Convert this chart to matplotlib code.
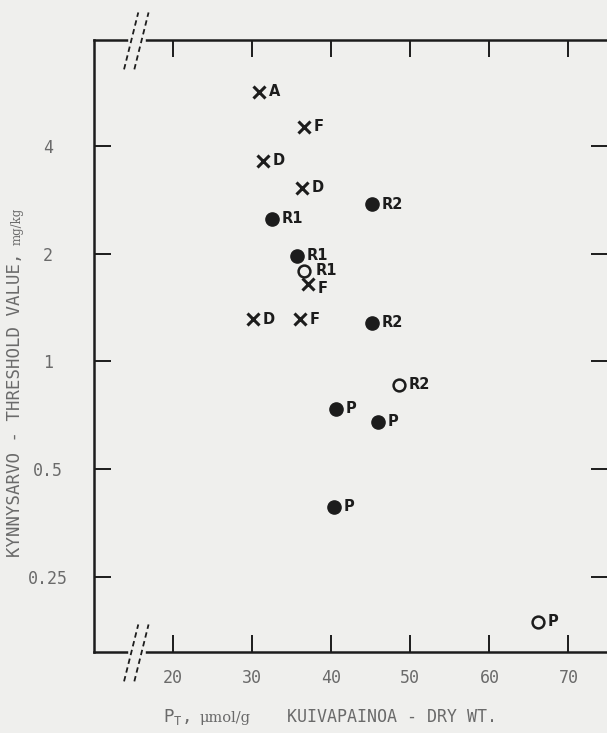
import matplotlib
matplotlib.use("Agg")
import matplotlib.pyplot as plt
import matplotlib.transforms as mtransforms

# data
filled_x = [32.5, 45.1, 35.7, 45.2, 40.6, 45.9, 40.3]
filled_y = [2.50, 2.75, 1.97, 1.28, 0.736, 0.677, 0.392]
filled_lbl = ["R1", "R2", "R1", "R2", "P", "P", "P"]

open_x = [36.6, 48.6, 66.1]
open_y = [1.79, 0.859, 0.187]
open_lbl = ["R1", "R2", "P"]

cross_x = [30.9, 36.5, 31.4, 36.3, 37.0, 30.1, 36.1]
cross_y = [5.66, 4.52, 3.63, 3.05, 1.645, 1.31, 1.31]
cross_lbl = ["A", "F", "D", "D", "F", "D", "F"]

xticks = [20, 30, 40, 50, 60, 70]
yticks = [0.25, 0.5, 1, 2, 4]
ytick_lbl = ["0.25", "0.5", "1", "2", "4"]

bg = "#efefed"
ink = "#1c1c1c"
grey = "#6a6a6a"
mono = "DejaVu Sans Mono"

fig = plt.figure(figsize=(6.07, 7.33), dpi=100, facecolor=bg)
ax = fig.add_axes([94 / 607, 1 - 652 / 733, 514 / 607, 612 / 733])
ax.set_facecolor(bg)

ax.set_yscale("log", base=2)
ax.set_xlim(10, 75)
ax.set_ylim(0.154, 7.9)

ax.plot(filled_x, filled_y, "o", color=ink, ms=9.5, ls="none")
ax.plot(open_x, open_y, "o", mfc="none", mec=ink, mew=1.8, ms=8.5, ls="none")
ax.plot(cross_x, cross_y, "x", color=ink, mew=2.2, ms=8, ls="none")

# label offsets in points; the crowded open R1 / cross F pair is nudged apart
nudge = {("open", 0): (8, 0.5), ("cross", 4): (7, -3)}
lblfont = dict(family="DejaVu Sans", fontsize=10.5, fontweight="bold", color=ink)
for name, xs, ys, ls in [("filled", filled_x, filled_y, filled_lbl),
                         ("open", open_x, open_y, open_lbl),
                         ("cross", cross_x, cross_y, cross_lbl)]:
    for i, (x, y, t) in enumerate(zip(xs, ys, ls)):
        ax.annotate(t, (x, y), xytext=nudge.get((name, i), (7, 0)),
                    textcoords="offset points", va="center", ha="left", **lblfont)

# axes styling
for s in ax.spines.values():
    s.set_linewidth(1.8)
    s.set_color(ink)
ax.set_xticks(xticks)
ax.set_yticks(yticks)
ax.yaxis.set_minor_locator(matplotlib.ticker.NullLocator())
ax.tick_params(which="both", direction="in", length=12, width=1.4, color=ink,
               top=True, right=True, labelcolor=grey, labelsize=12)
ax.tick_params(axis="x", pad=12)
ax.tick_params(axis="y", pad=33)
ax.set_yticklabels(ytick_lbl)
for t in ax.get_yticklabels():
    t.set_ha("center")
for t in ax.get_xticklabels() + ax.get_yticklabels():
    t.set_family(mono)

# axis breaks (//) on top and bottom spines
trans = mtransforms.blended_transform_factory(ax.transData, ax.transAxes)
for y0 in (0.0, 1.0):
    ax.plot([14.7, 16.2], [y0, y0], color=bg, lw=4, transform=trans,
            clip_on=False, zorder=5)
    for dx in (0.0, 1.3):
        ax.plot([13.8 + dx, 15.6 + dx], [y0 - 0.048, y0 + 0.045], color=ink,
                lw=1.3, ls=(0, (3, 2)), transform=trans, clip_on=False, zorder=6)

# axis titles
fig.text(15 / 607, 1 - 557 / 733, "KYNNYSARVO - THRESHOLD VALUE,", rotation=90,
         ha="center", va="bottom", color=grey, fontsize=12.5, family=mono)
fig.text(17 / 607, 1 - 245 / 733, "mg/kg", rotation=90, ha="center", va="bottom",
         color=grey, fontsize=8.5, family="DejaVu Serif")
fig.text(163 / 607, 1 - 722 / 733, "P$_\\mathregular{T}$,", ha="left", va="baseline",
         color=grey, fontsize=12.5, family=mono)
fig.text(200 / 607, 1 - 722 / 733, "\u03bcmol/g", ha="left", va="baseline",
         color=grey, fontsize=10.5, family="DejaVu Serif")
fig.text(287 / 607, 1 - 722 / 733, "KUIVAPAINOA - DRY WT.", ha="left", va="baseline",
         color=grey, fontsize=12, family=mono)

fig.savefig("out.png", dpi=100, facecolor=bg)
